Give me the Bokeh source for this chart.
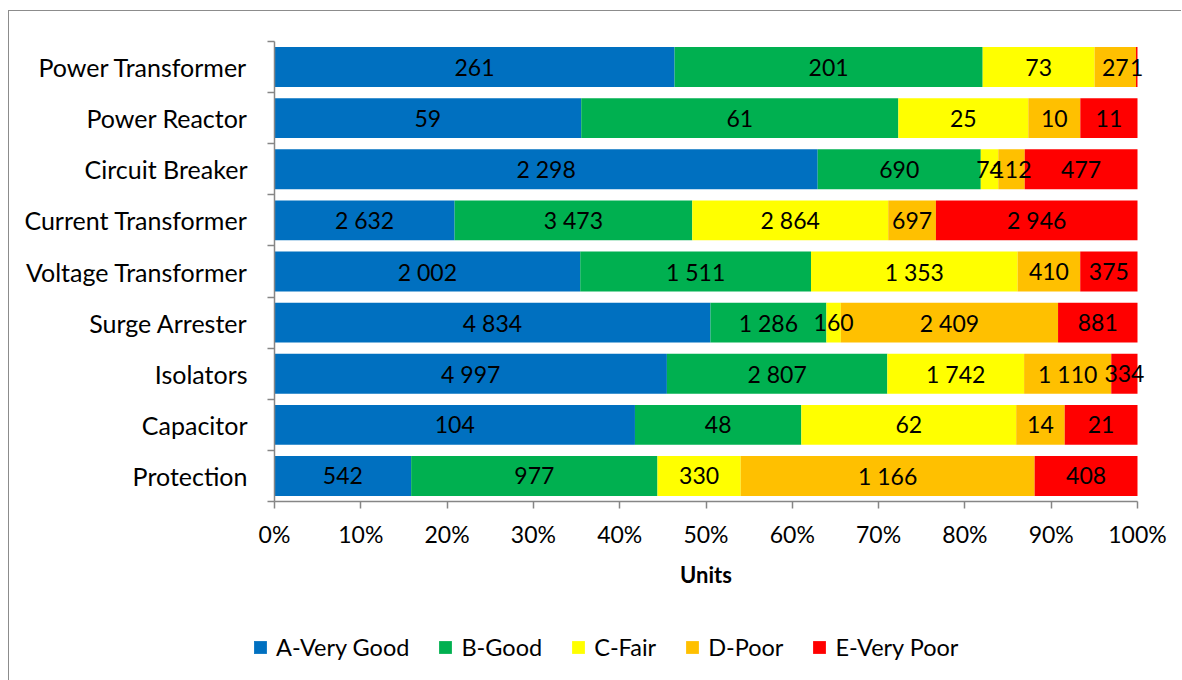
from bokeh.plotting import figure
from bokeh.layouts import column
from bokeh.models import (ColumnDataSource, FixedTicker, Legend, LegendItem,
                          Range1d, Title)
from bokeh.core.properties import value
from bokeh.embed import file_html
from bokeh.resources import INLINE

# Equipment condition by asset class (number of units per condition grade)
equipment = ["Power Transformer", "Power Reactor", "Circuit Breaker",
             "Current Transformer", "Voltage Transformer", "Surge Arrester",
             "Isolators", "Capacitor", "Protection"]
grades = ["A-Very Good", "B-Good", "C-Fair", "D-Poor", "E-Very Poor"]

very_good = [261, 59, 2298, 2632, 2002, 4834, 4997, 104, 542]
good = [201, 61, 690, 3473, 1511, 1286, 2807, 48, 977]
fair = [73, 25, 74, 2864, 1353, 160, 1742, 62, 330]
poor = [27, 10, 112, 697, 410, 2409, 1110, 14, 1166]
very_poor = [1, 11, 477, 2946, 375, 881, 334, 21, 408]

pct_ticks = [0.0, 0.1, 0.2, 0.3, 0.4, 0.5, 0.6, 0.7, 0.8, 0.9, 1.0]
pct_labels = ["0%", "10%", "20%", "30%", "40%", "50%", "60%", "70%",
              "80%", "90%", "100%"]

colors = ["#0070C0", "#00B050", "#FFFF00", "#FFC000", "#FF0000"]
FONT = "Lato"
AXIS_GREY = "#868686"
FRAME_GREY = "#8c8c8c"

series = [very_good, good, fair, poor, very_poor]
n = len(equipment)
y_pos = [n - 1 - i + 0.5 for i in range(n)]
totals = [sum(s[i] for s in series) for i in range(n)]

# Geometry: 863 px for 0..100 %; the frame runs on to the right edge so
# labels of thin end segments are not cut.
FIG_W = 1173
LEFT = 265
PX_PER_UNIT = 863
x_end = (FIG_W - LEFT) / PX_PER_UNIT

p = figure(width=FIG_W, height=600, output_backend="svg", toolbar_location=None,
           x_range=Range1d(0, x_end), y_range=Range1d(0, n),
           min_border_left=LEFT, min_border_right=0,
           min_border_top=30, min_border_bottom=110,
           outline_line_color=None, background_fill_color="white",
           border_fill_color="white")
p.frame_align = False
p.margin = (10, 0, 0, 8)
p.styles = {"border-left": f"1px solid {FRAME_GREY}",
            "border-top": f"1px solid {FRAME_GREY}"}
p.grid.visible = False

cum = [0.0] * n
sources = []
for vals, col in zip(series, colors):
    left = cum[:]
    right = [cum[i] + vals[i] / totals[i] for i in range(n)]
    src = ColumnDataSource(dict(
        y=y_pos, left=left, right=right,
        mid=[(l + r) / 2 for l, r in zip(left, right)],
        txt=[f"{v:,}".replace(",", " ") for v in vals]))
    p.hbar(y="y", left="left", right="right", height=0.78, source=src,
           fill_color=col, line_color=None)
    sources.append(src)
    cum = right

# value labels on top of all bars
for src in sources:
    p.text(x="mid", y="y", text="txt", source=src, text_align="center",
           text_baseline="middle", text_font=value(FONT),
           text_font_size="23px", text_color="black")

# x axis: share of units
xa = p.xaxis[0]
xa.bounds = (0, 1)
xa.ticker = FixedTicker(ticks=pct_ticks)
xa.major_label_overrides = {t: l for t, l in zip(pct_ticks, pct_labels)}
xa.major_label_text_font = FONT
xa.major_label_text_font_size = "23px"
xa.major_label_text_color = "black"
xa.major_label_standoff = 11
xa.axis_line_color = AXIS_GREY
xa.axis_line_width = 1.5
xa.major_tick_line_color = AXIS_GREY
xa.major_tick_line_width = 1.5
xa.major_tick_in = 0
xa.major_tick_out = 7
xa.minor_tick_line_color = None

# axis title centred under the 0..100 % span
units = Title(text="Units", align="left", offset=PX_PER_UNIT / 2 - 26,
              text_font=FONT, text_font_style="bold", text_font_size="22px",
              text_color="black", standoff=17)
p.add_layout(units, "below")

# y axis: equipment names between boundary ticks
ya = p.yaxis[0]
ya.ticker = FixedTicker(ticks=y_pos, minor_ticks=list(range(n + 1)))
ya.major_label_overrides = {y: name for y, name in zip(y_pos, equipment)}
ya.major_label_text_font = FONT
ya.major_label_text_font_size = "25px"
ya.major_label_text_color = "black"
ya.major_label_standoff = 20
ya.major_tick_line_color = None
ya.minor_tick_line_color = AXIS_GREY
ya.minor_tick_line_width = 1.5
ya.minor_tick_in = 0
ya.minor_tick_out = 7
ya.axis_line_color = AXIS_GREY
ya.axis_line_width = 1.5

# legend strip under the chart
lg = figure(width=FIG_W, height=70, output_backend="svg", toolbar_location=None,
            x_range=Range1d(0, 1), y_range=Range1d(0, 1),
            x_axis_type=None, y_axis_type=None,
            min_border=0, outline_line_color=None,
            background_fill_color="white", border_fill_color="white")
lg.frame_align = False
lg.margin = (0, 0, 0, 8)
lg.styles = {"border-left": f"1px solid {FRAME_GREY}"}
lg.grid.visible = False

items = []
for name, col in zip(grades, colors):
    swatch = ColumnDataSource(dict(y=[-1.0], left=[0.0], right=[0.0]))
    r = lg.hbar(y="y", left="left", right="right", height=0.5,
                source=swatch, fill_color=col, line_color=None)
    items.append(LegendItem(label=name, renderers=[r]))

legend = Legend(items=items, orientation="horizontal", location=(243, 19),
                label_text_font=FONT, label_text_font_size="23.5px",
                label_text_color="black", glyph_width=16, glyph_height=16,
                label_standoff=8, spacing=28, padding=0, margin=0,
                border_line_color=None, background_fill_alpha=0)
lg.add_layout(legend, "center")

layout = column(p, lg, spacing=0)
open("out.html", "w").write(file_html(layout, INLINE))
